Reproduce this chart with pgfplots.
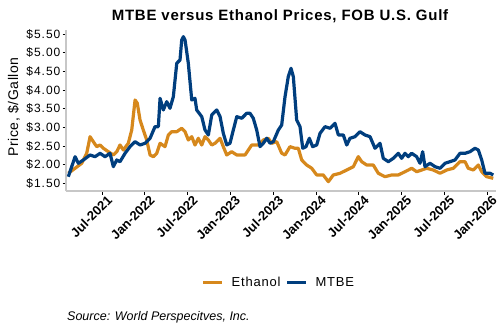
\documentclass[border=0pt]{standalone}
\usepackage{pgfplots}
\pgfplotsset{compat=1.18}
\usepackage{pgfplotstable}
\usepackage{fontspec}
\setmainfont{Liberation Sans}
\newfontfamily\titlefont[LetterSpace=5]{Liberation Sans}
\newfontfamily\tickfont[LetterSpace=8]{Liberation Sans}
\newfontfamily\labfont[LetterSpace=4]{Liberation Sans}
\newfontfamily\legfont[LetterSpace=6]{Liberation Sans}
\definecolor{ethc}{HTML}{D6881C}
\definecolor{mtbec}{HTML}{003E7E}

\pgfplotstableread{
x y
2021.106 1.768
2021.185 1.903
2021.263 2.037
2021.321 2.305
2021.360 2.751
2021.398 2.617
2021.438 2.483
2021.477 2.528
2021.515 2.440
2021.574 2.348
2021.632 2.260
2021.672 2.348
2021.710 2.528
2021.749 2.394
2021.807 2.574
2021.847 2.931
2021.886 3.736
2021.912 3.648
2021.944 3.199
2021.982 2.931
2022.022 2.662
2022.061 2.260
2022.099 2.214
2022.139 2.305
2022.178 2.574
2022.236 2.483
2022.275 2.797
2022.314 2.885
2022.373 2.885
2022.431 2.977
2022.470 2.885
2022.508 2.662
2022.548 2.751
2022.586 2.528
2022.625 2.708
2022.665 2.528
2022.703 2.751
2022.742 2.662
2022.782 2.528
2022.820 2.574
2022.879 2.708
2022.917 2.483
2022.957 2.260
2023.015 2.348
2023.074 2.260
2023.171 2.260
2023.249 2.528
2023.326 2.528
2023.384 2.662
2023.443 2.708
2023.482 2.574
2023.541 2.617
2023.599 2.305
2023.638 2.260
2023.696 2.483
2023.755 2.440
2023.793 2.440
2023.833 2.126
2023.891 1.991
2023.950 1.903
2024.008 1.723
2024.085 1.723
2024.144 1.543
2024.202 1.723
2024.280 1.768
2024.359 1.857
2024.436 1.946
2024.494 2.214
2024.534 2.080
2024.592 1.991
2024.669 1.991
2024.728 1.768
2024.806 1.677
2024.884 1.723
2024.961 1.723
2025.040 1.811
2025.118 1.903
2025.176 1.811
2025.235 1.857
2025.293 1.903
2025.370 1.857
2025.449 1.768
2025.527 1.857
2025.604 1.903
2025.682 2.080
2025.741 2.080
2025.779 1.903
2025.838 1.857
2025.896 1.991
2025.936 1.811
2025.994 1.677
2026.071 1.634
}\ethanol

\pgfplotstableread{
x y
2021.106 1.677
2021.185 2.214
2021.223 2.037
2021.282 2.126
2021.360 2.260
2021.418 2.214
2021.477 2.305
2021.535 2.214
2021.593 2.305
2021.632 1.946
2021.672 2.126
2021.710 2.080
2021.769 2.305
2021.827 2.483
2021.886 2.617
2021.944 2.528
2022.002 2.574
2022.061 2.708
2022.119 3.020
2022.158 3.020
2022.178 3.782
2022.216 3.468
2022.256 3.691
2022.294 3.513
2022.333 3.825
2022.373 4.722
2022.411 4.810
2022.431 5.347
2022.450 5.436
2022.470 5.347
2022.508 4.722
2022.548 3.736
2022.586 3.782
2022.606 3.468
2022.665 3.288
2022.703 2.931
2022.742 2.797
2022.782 3.334
2022.840 3.468
2022.879 3.288
2022.917 2.842
2022.957 2.530
2022.995 2.574
2023.034 2.931
2023.074 3.288
2023.132 3.245
2023.190 3.379
2023.229 3.379
2023.267 3.245
2023.307 2.931
2023.346 2.483
2023.384 2.574
2023.424 2.708
2023.463 2.574
2023.501 2.617
2023.560 2.931
2023.599 3.065
2023.638 3.825
2023.676 4.362
2023.708 4.587
2023.735 4.362
2023.774 3.199
2023.813 3.020
2023.845 2.440
2023.883 2.483
2023.922 2.708
2023.961 2.483
2024.008 2.528
2024.047 2.842
2024.105 3.020
2024.164 2.977
2024.222 3.111
2024.261 2.797
2024.319 2.797
2024.359 2.528
2024.397 2.708
2024.456 2.751
2024.514 2.885
2024.572 2.797
2024.631 2.751
2024.689 2.440
2024.748 2.574
2024.786 2.171
2024.845 2.080
2024.903 2.171
2024.961 2.305
2025.001 2.171
2025.040 2.305
2025.078 2.214
2025.118 2.305
2025.176 2.214
2025.215 2.037
2025.246 2.348
2025.273 1.946
2025.332 2.037
2025.390 1.946
2025.449 1.903
2025.507 2.037
2025.565 2.080
2025.624 2.126
2025.682 2.305
2025.741 2.305
2025.799 2.348
2025.857 2.440
2025.896 2.394
2025.936 2.126
2025.974 1.769
2026.033 1.769
2026.071 1.723
}\mtbe

\begin{document}
\begin{tikzpicture}[x=1bp,y=1bp]
\useasboundingbox (0,0) rectangle (500,330);
\begin{axis}[
  at={(66bp,139bp)}, anchor=south west,
  scale only axis, width=430bp, height=161bp,
  xmin=2021.079, xmax=2026.103, ymin=1.293, ymax=5.615,
  axis x line*=bottom, axis y line*=left,
  axis line style={draw=black!22, line width=1.6bp, -},
  tick align=outside, major tick length=3.5bp,
  tick style={black, line width=0.9bp},
  xtick={2021.5,2022,2022.5,2023,2023.5,2024,2024.5,2025,2025.5,2026},
  xticklabels={Jul-2021,Jan-2022,Jul-2022,Jan-2023,Jul-2023,Jan-2024,Jul-2024,Jan-2025,Jul-2025,Jan-2026},
  xticklabel style={rotate=45, anchor=north east, inner sep=1bp, xshift=4bp, yshift=-2bp,
    font=\bfseries\fontsize{13bp}{15bp}\selectfont},
  ytick={1.5,2,2.5,3,3.5,4,4.5,5,5.5},
  yticklabel={\$\pgfmathprintnumber[fixed,fixed zerofill,precision=2]{\tick}},
  yticklabel style={font=\tickfont\fontsize{12bp}{14bp}\selectfont, inner xsep=2bp},
  /pgf/number format/assume math mode=true,
  legend columns=2,
  legend style={at={(0.495,-0.571)}, anchor=center, draw=none, fill=none,
    font=\legfont\fontsize{13bp}{15bp}\selectfont,
    /tikz/every even column/.append style={column sep=3bp},
    /tikz/every odd column/.append style={column sep=6bp}},
  legend image code/.code={\draw[#1, line width=3bp] (0bp,0bp) -- (19bp,0bp);},
  clip=false,
]
\addplot[ethc, line width=3.2bp, line join=round] table[x=x,y=y]{\ethanol};
\addlegendentry{Ethanol}
\addplot[mtbec, line width=3.2bp, line join=round] table[x=x,y=y]{\mtbe};
\addlegendentry{MTBE}
\end{axis}
\node[anchor=base, font=\titlefont\bfseries\fontsize{15bp}{17bp}\selectfont] at (280,310) {MTBE versus Ethanol Prices, FOB U.S. Gulf};
\node[anchor=base, rotate=90, font=\labfont\fontsize{14bp}{16bp}\selectfont] at (18,223) {Price, \$/Gallon};
\node[anchor=base west, inner sep=0pt, font=\itshape\fontsize{12.5bp}{14bp}\selectfont] at (67,10) {Source: World Perspecitves, Inc.};
\end{tikzpicture}
\end{document}
